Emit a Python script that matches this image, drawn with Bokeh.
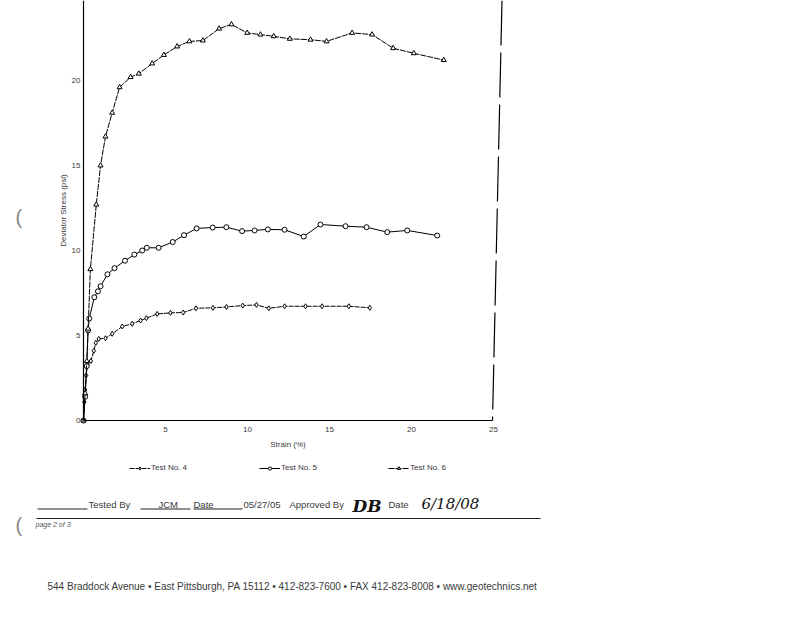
from bokeh.plotting import figure
from bokeh.models import Range1d, FixedTicker, Legend, LegendItem
from bokeh.embed import file_html
from bokeh.resources import INLINE
from bokeh.core.properties import value

# ---------------- data (strain %, deviator stress psi) ----------------
strain_4 = [0, 0.05, 0.1, 0.16, 0.25, 0.45, 0.63, 0.75, 0.93, 1.34, 1.75, 2.36, 2.97,
            3.48, 3.84, 4.49, 5.3, 6.08, 6.86, 7.89, 8.72, 9.71, 10.55, 11.3, 12.26,
            13.54, 14.55, 16.18, 17.46]
stress_4 = [0, 1.1, 1.8, 2.65, 3.3, 3.5, 4.1, 4.57, 4.8, 4.84, 5.1, 5.53, 5.69,
            5.88, 6.02, 6.27, 6.33, 6.35, 6.6, 6.63, 6.68, 6.76, 6.8, 6.6, 6.72,
            6.72, 6.72, 6.72, 6.63]

strain_5 = [0, 0.1, 0.2, 0.28, 0.35, 0.66, 0.88, 1.04, 1.46, 1.89, 2.53, 3.1, 3.58,
            3.86, 4.58, 5.44, 6.13, 6.9, 7.88, 8.71, 9.67, 10.43, 11.24, 12.26, 13.43,
            14.45, 15.98, 17.26, 18.52, 19.74, 21.57]
stress_5 = [0, 1.4, 3.2, 5.3, 6.0, 7.25, 7.6, 7.9, 8.6, 8.96, 9.4, 9.76, 10.0,
            10.16, 10.16, 10.5, 10.9, 11.3, 11.35, 11.37, 11.14, 11.18, 11.24, 11.22, 10.82,
            11.53, 11.43, 11.37, 11.08, 11.18, 10.88]

strain_6 = [0, 0.1, 0.2, 0.28, 0.42, 0.78, 1.04, 1.34, 1.75, 2.2, 2.87, 3.37, 4.19,
            4.9, 5.71, 6.46, 7.28, 8.27, 9.02, 9.98, 10.79, 11.6, 12.58, 13.84, 14.82,
            16.38, 17.6, 18.88, 20.14, 21.97]
stress_6 = [0, 1.6, 3.5, 5.4, 8.9, 12.7, 15.0, 16.7, 18.1, 19.6, 20.2, 20.4, 21.0,
            21.5, 22.0, 22.3, 22.35, 23.05, 23.3, 22.8, 22.7, 22.6, 22.45, 22.4, 22.3,
            22.8, 22.7, 21.9, 21.6, 21.2]

series_names = ["Test No. 4", "Test No. 5", "Test No. 6"]
x_ticks = [5, 10, 15, 20, 25]
y_ticks = [0, 5, 10, 15, 20]

x_label = "Strain (%)"
y_label = "Deviator Stress (psi)"

footer_texts = ["Tested By", "JCM", "Date", "05/27/05", "Approved By", "Date"]
signature = "DB"
sign_date = "6/18/08"
page_note = "page 2 of 3"
address = ("544 Braddock Avenue  \u2022  East Pittsburgh, PA 15112  \u2022  "
           "412-823-7600  \u2022  FAX 412-823-8008  \u2022  www.geotechnics.net")

# ---------------- page geometry (the whole canvas is the plot frame) ----------------
W, H = 798, 616
X0_PX, X_SCALE = 83, 16.4      # pixel of strain 0, pixels per % strain
Y0_PX, Y_SCALE = 420, 17       # pixel of stress 0, pixels per psi


def dx(px):
    return (px - X0_PX) / X_SCALE


def dy(py):
    return (Y0_PX - py) / Y_SCALE


FONT = "Liberation Sans"
TXT = "#3a3a3a"

p = figure(width=W, height=H, output_backend="svg", toolbar_location=None,
           x_range=Range1d(dx(0), dx(W)), y_range=Range1d(dy(H), dy(0)),
           min_border=0, background_fill_color="white", border_fill_color="white")
p.xgrid.visible = False
p.ygrid.visible = False
p.outline_line_color = None

p.xaxis.fixed_location = 0
p.yaxis.fixed_location = 0
p.xaxis.bounds = (0, 24.93)
p.yaxis.bounds = (0, dy(0))
p.xaxis.ticker = FixedTicker(ticks=x_ticks)
p.yaxis.ticker = FixedTicker(ticks=y_ticks)
p.xaxis.axis_label = x_label
p.yaxis.axis_label = y_label
for ax in (p.xaxis[0], p.yaxis[0]):
    ax.major_tick_out = 0
    ax.major_tick_in = 0
    ax.minor_tick_out = 0
    ax.minor_tick_in = 0
    ax.major_label_text_font = FONT
    ax.major_label_text_font_size = "8px"
    ax.major_label_text_color = TXT
    ax.axis_label_text_font = FONT
    ax.axis_label_text_font_size = "8px"
    ax.axis_label_text_font_style = "normal"
    ax.axis_label_text_color = TXT
    ax.axis_line_color = "black"
    ax.axis_line_width = 1.2
p.xaxis.major_label_standoff = 6
p.xaxis.axis_label_standoff = 5
p.yaxis.major_label_standoff = 3
p.yaxis.axis_label_standoff = 1

# right frame edge (skewed in the scan)
p.segment(x0=[dx(501.5)], y0=[dy(0)], x1=[dx(492)], y1=[0], line_color="black",
          line_width=1.2, line_dash="45 7")

marker_style = dict(size=5, fill_color="white", line_color="black", line_width=1)
l4 = p.line(strain_4, stress_4, line_color="black", line_width=1, line_dash="5 1")
m4 = p.scatter(strain_4, stress_4, marker="diamond", **marker_style)
l5 = p.line(strain_5, stress_5, line_color="black", line_width=1)
m5 = p.scatter(strain_5, stress_5, marker="circle", **marker_style)
l6 = p.line(strain_6, stress_6, line_color="black", line_width=1, line_dash="6 1")
m6 = p.scatter(strain_6, stress_6, marker="triangle", **marker_style)

for name, rs, xpx in zip(series_names, [[l4, m4], [l5, m5], [l6, m6]], [129, 259, 388]):
    lg = Legend(items=[LegendItem(label=name, renderers=rs)], location=(xpx, H - 472),
                border_line_color=None, background_fill_alpha=0, padding=0, margin=0,
                glyph_width=21, glyph_height=8, label_height=8, label_standoff=1,
                label_text_font=FONT, label_text_font_size="8px",
                label_text_color=TXT)
    p.add_layout(lg, "center")

# ---------------- signature block / address ----------------
p.segment(x0=[dx(37), dx(140), dx(193), dx(36)], y0=[dy(508.5), dy(508.5), dy(508.5), dy(518)],
          x1=[dx(87), dx(190), dx(242), dx(540)], y1=[dy(508.5), dy(508.5), dy(508.5), dy(518)],
          line_color="#222", line_width=1)

p.text(x=[dx(88), dx(158), dx(193), dx(243), dx(289), dx(388)], y=[dy(504)] * 6,
       text=footer_texts, text_font=value(FONT), text_font_size="9.5px",
       text_color=TXT, text_baseline="middle")
p.text(x=[dx(352)], y=[dy(505)], text=[signature], text_font=value("DejaVu Serif"),
       text_font_size="17px", text_font_style="bold italic", text_color="#111",
       text_baseline="middle")
p.text(x=[dx(421)], y=[dy(503)], text=[sign_date], text_font=value("DejaVu Serif"),
       text_font_size="15px", text_font_style="italic", text_color="#111",
       text_baseline="middle")
p.text(x=[dx(35)], y=[dy(524)], text=[page_note], text_font=value(FONT),
       text_font_size="7px", text_font_style="italic", text_color="#555",
       text_baseline="middle")
p.text(x=[dx(47)], y=[dy(586)], text=[address], text_font=value(FONT),
       text_font_size="10px", text_color=TXT, text_baseline="middle")

# punched-hole marks at the left edge of the scanned page
p.text(x=[dx(15), dx(15)], y=[dy(216), dy(524)], text=["(", "("], text_font=value(FONT),
       text_font_size="20px", text_color="#888", text_baseline="middle")

open("out.html", "w").write(file_html(p, INLINE))
